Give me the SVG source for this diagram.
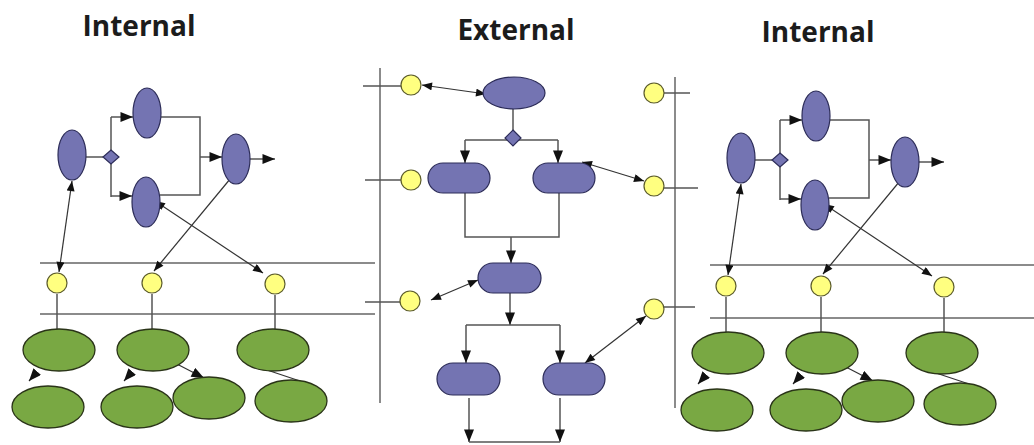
<svg xmlns="http://www.w3.org/2000/svg" width="1034" height="445" viewBox="0 0 1034 445">
  <style>
    .title { font-family: "Open Sans", "DejaVu Sans", sans-serif; font-weight: bold; font-size: 28px; fill: #1c1c1c; text-anchor: middle; }
    .act { fill: #7474b2; stroke: #2c2c58; stroke-width: 1.2; }
    .port { fill: #ffff80; stroke: #5c5c2a; stroke-width: 1.2; }
    .obj { fill: #79a843; stroke: #2a3418; stroke-width: 1.3; }
    .flow { fill: none; stroke: #555; stroke-width: 1.5; }
    .lane { fill: none; stroke: #666; stroke-width: 1.5; }
    .link { fill: none; stroke: #333; stroke-width: 1.2; }
    .arrow { marker-end: url(#head); }
    .both { marker-start: url(#head-s); marker-end: url(#head-s); }
  </style>
  <defs>
    <marker id="head" viewBox="0 0 10 8" refX="10" refY="4" markerWidth="13" markerHeight="10" markerUnits="userSpaceOnUse" orient="auto">
      <path d="M0,0 L10,4 L0,8 Z" fill="#111"/>
    </marker>
    <marker id="head-s" viewBox="0 0 10 8" refX="10" refY="4" markerWidth="11" markerHeight="8" markerUnits="userSpaceOnUse" orient="auto-start-reverse">
      <path d="M0,0 L10,4 L0,8 Z" fill="#111"/>
    </marker>
  </defs>

  <rect width="1034" height="445" fill="#ffffff"/>

  <!-- headings -->
  <text class="title" x="139" y="36">Internal</text>
  <text class="title" x="516" y="40">External</text>
  <text class="title" x="818" y="42">Internal</text>

  <!-- left internal process -->
  <g id="internal-left">
    <g id="lanes-left">
      <path class="lane" d="M40,263 H375 M40,314 H375"/>
    </g>
    <g id="connectors-left">
      <path class="flow" d="M86,157 H103"/>
      <path class="flow" d="M111,117 V197"/>
      <path class="flow arrow" d="M111,117 H133"/>
      <path class="flow arrow" d="M111,196 H132"/>
      <path class="flow" d="M161,117 H200 V195 H160"/>
      <path class="flow arrow" d="M200,157 H222"/>
      <path class="flow arrow" d="M250,159 H275"/>
      <path class="link both" d="M72,181 L59,272"/>
      <path class="link both" d="M240,167 L154,271"/>
      <path class="link both" d="M155,201 L263,273"/>
      <path class="flow" d="M57,294 V329 M152,294 V329 M275,295 V329"/>
      <path class="link arrow" d="M36,373 L29,381"/>
      <path class="link arrow" d="M131,373 L124,381"/>
      <path class="link arrow" d="M173,362 L204,378"/>
      <path class="link" d="M267,370 L300,381"/>
    </g>
    <g id="l-start"><ellipse class="act" cx="72" cy="155" rx="14" ry="25"/></g>
    <g id="l-fork"><path class="act" d="M111,150 L119,157 L111,164 L103,157 Z"/></g>
    <g id="l-upper"><ellipse class="act" cx="147" cy="113" rx="14" ry="25"/></g>
    <g id="l-lower"><ellipse class="act" cx="146" cy="202" rx="14" ry="25"/></g>
    <g id="l-join"><ellipse class="act" cx="236" cy="159" rx="14" ry="25"/></g>
    <g id="l-port1"><circle class="port" cx="57" cy="283" r="10"/></g>
    <g id="l-port2"><circle class="port" cx="152" cy="283" r="10"/></g>
    <g id="l-port3"><circle class="port" cx="275" cy="284" r="10"/></g>
    <g id="l-obj1"><ellipse class="obj" cx="59" cy="350" rx="36" ry="21"/></g>
    <g id="l-obj2"><ellipse class="obj" cx="153" cy="350" rx="36" ry="21"/></g>
    <g id="l-obj3"><ellipse class="obj" cx="273" cy="350" rx="36" ry="21"/></g>
    <g id="l-obj4"><ellipse class="obj" cx="48" cy="407" rx="36" ry="21"/></g>
    <g id="l-obj5"><ellipse class="obj" cx="137" cy="407" rx="36" ry="21"/></g>
    <g id="l-obj6"><ellipse class="obj" cx="209" cy="398" rx="36" ry="21"/></g>
    <g id="l-obj7"><ellipse class="obj" cx="291" cy="401" rx="36" ry="21"/></g>
  </g>

  <!-- external process between the two boundaries -->
  <g id="external">
    <g id="boundaries">
      <path class="lane" d="M380,68 V403 M675,77 V408"/>
      <path class="flow" d="M363,86 H401 M365,180 H401 M365,302 H401"/>
      <path class="flow" d="M664,93 H690 M664,188 H698 M664,307 H695"/>
    </g>
    <g id="connectors-ext">
      <path class="link both" d="M422,85 L486,94"/>
      <path class="flow" d="M513,109 V131"/>
      <path class="flow" d="M465,140 H558"/>
      <path class="flow arrow" d="M465,140 V163"/>
      <path class="flow arrow" d="M558,140 V163"/>
      <path class="link both" d="M582,162 L644,181"/>
      <path class="flow" d="M465,193 V237 H559 V193"/>
      <path class="flow arrow" d="M511,237 V263"/>
      <path class="link both" d="M478,280 L431,300"/>
      <path class="flow arrow" d="M510,293 V325"/>
      <path class="flow" d="M466,325 H560"/>
      <path class="flow arrow" d="M466,325 V363"/>
      <path class="flow arrow" d="M560,325 V363"/>
      <path class="link both" d="M585,363 L646,316"/>
      <path class="flow arrow" d="M469,398 V442"/>
      <path class="flow arrow" d="M560,398 V442"/>
      <path class="flow" d="M469,442 H560"/>
    </g>
    <g id="x-port1"><circle class="port" cx="411" cy="85" r="10"/></g>
    <g id="x-port2"><circle class="port" cx="411" cy="180" r="10"/></g>
    <g id="x-port3"><circle class="port" cx="410" cy="301" r="10"/></g>
    <g id="x-port4"><circle class="port" cx="654" cy="93" r="10"/></g>
    <g id="x-port5"><circle class="port" cx="654" cy="186" r="10"/></g>
    <g id="x-port6"><circle class="port" cx="654" cy="309" r="10"/></g>
    <g id="x-start"><ellipse class="act" cx="514" cy="93" rx="31" ry="16"/></g>
    <g id="x-fork"><path class="act" d="M513,130 L521,138 L513,146 L505,138 Z"/></g>
    <g id="x-left"><rect class="act" x="428" y="163" width="62" height="30" rx="15"/></g>
    <g id="x-right"><rect class="act" x="533" y="163" width="62" height="30" rx="15"/></g>
    <g id="x-merge"><rect class="act" x="478" y="263" width="63" height="30" rx="15"/></g>
    <g id="x-end-left"><rect class="act" x="437" y="363" width="63" height="32" rx="16"/></g>
    <g id="x-end-right"><rect class="act" x="543" y="363" width="62" height="32" rx="16"/></g>
  </g>

  <!-- right internal process -->
  <g id="internal-right" transform="translate(669,3)">
    <g id="lanes-right">
      <path class="lane" d="M41,262 H365 M41,315 H365"/>
    </g>
    <g id="connectors-right">
      <path class="flow" d="M86,157 H103"/>
      <path class="flow" d="M111,117 V197"/>
      <path class="flow arrow" d="M111,117 H133"/>
      <path class="flow arrow" d="M111,196 H132"/>
      <path class="flow" d="M161,117 H200 V195 H160"/>
      <path class="flow arrow" d="M200,157 H222"/>
      <path class="flow arrow" d="M250,159 H275"/>
      <path class="link both" d="M72,181 L59,272"/>
      <path class="link both" d="M240,167 L154,271"/>
      <path class="link both" d="M155,201 L263,273"/>
      <path class="flow" d="M57,294 V329 M152,294 V329 M275,295 V329"/>
      <path class="link arrow" d="M36,373 L29,381"/>
      <path class="link arrow" d="M131,373 L124,381"/>
      <path class="link arrow" d="M173,362 L204,378"/>
      <path class="link" d="M267,370 L300,381"/>
    </g>
    <g id="r-start"><ellipse class="act" cx="72" cy="155" rx="14" ry="25"/></g>
    <g id="r-fork"><path class="act" d="M111,150 L119,157 L111,164 L103,157 Z"/></g>
    <g id="r-upper"><ellipse class="act" cx="147" cy="113" rx="14" ry="25"/></g>
    <g id="r-lower"><ellipse class="act" cx="146" cy="202" rx="14" ry="25"/></g>
    <g id="r-join"><ellipse class="act" cx="236" cy="159" rx="14" ry="25"/></g>
    <g id="r-port1"><circle class="port" cx="57" cy="283" r="10"/></g>
    <g id="r-port2"><circle class="port" cx="152" cy="283" r="10"/></g>
    <g id="r-port3"><circle class="port" cx="275" cy="284" r="10"/></g>
    <g id="r-obj1"><ellipse class="obj" cx="59" cy="350" rx="36" ry="21"/></g>
    <g id="r-obj2"><ellipse class="obj" cx="153" cy="350" rx="36" ry="21"/></g>
    <g id="r-obj3"><ellipse class="obj" cx="273" cy="350" rx="36" ry="21"/></g>
    <g id="r-obj4"><ellipse class="obj" cx="48" cy="407" rx="36" ry="21"/></g>
    <g id="r-obj5"><ellipse class="obj" cx="137" cy="407" rx="36" ry="21"/></g>
    <g id="r-obj6"><ellipse class="obj" cx="209" cy="398" rx="36" ry="21"/></g>
    <g id="r-obj7"><ellipse class="obj" cx="291" cy="401" rx="36" ry="21"/></g>
  </g>
</svg>
